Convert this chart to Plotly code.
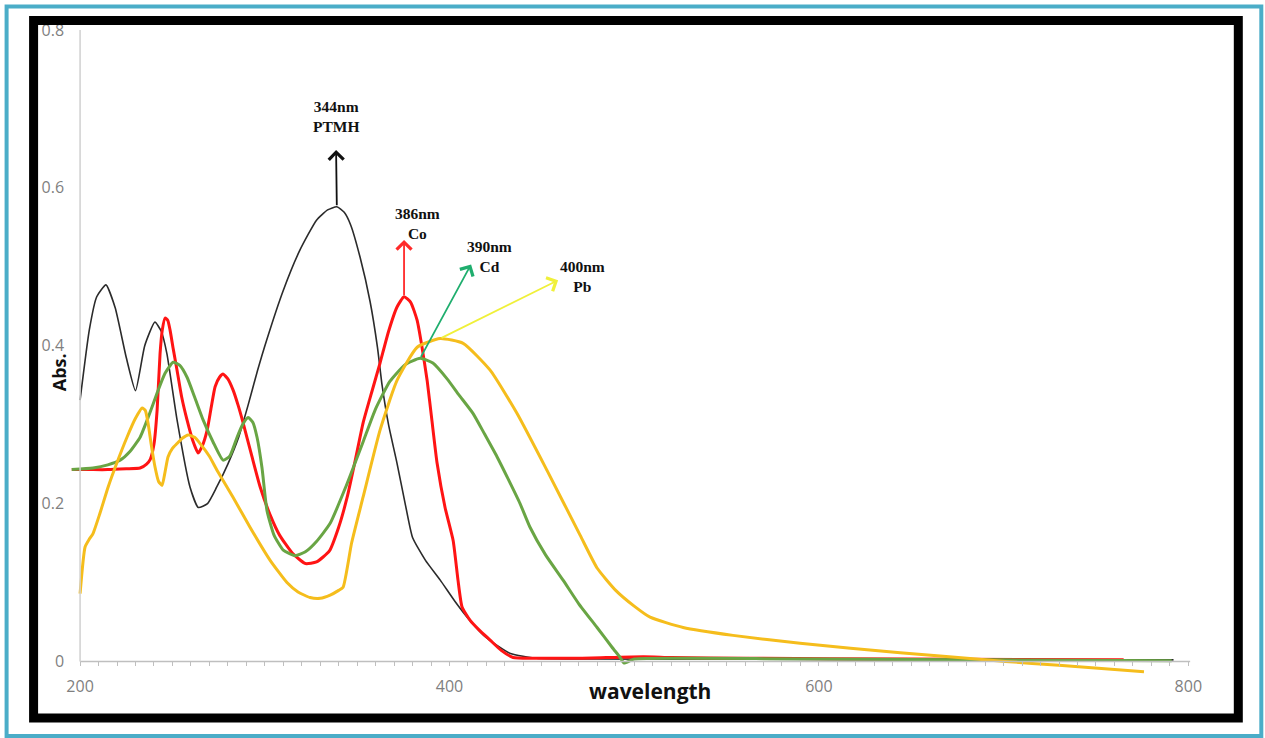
import plotly.graph_objects as go

# ---------------- data ----------------
ptmh_x = [200, 205, 209, 214, 219, 225, 230, 235, 240.5, 244, 247, 252.5, 259.5, 264, 269, 274, 280, 286,
          291, 296, 301, 310, 319, 328, 334, 339, 343, 346.5, 351.6, 357, 361, 363.5, 367, 371.6, 376, 380,
          387, 395, 403, 411, 420, 433, 447, 480, 550, 650, 750, 792]
ptmh_y = [0.331, 0.420, 0.462, 0.477, 0.448, 0.385, 0.343, 0.400, 0.430, 0.418, 0.390, 0.306, 0.221, 0.195,
          0.200, 0.221, 0.250, 0.285, 0.325, 0.368, 0.407, 0.470, 0.521, 0.559, 0.572, 0.576, 0.569, 0.553,
          0.512, 0.456, 0.398, 0.350, 0.300, 0.251, 0.200, 0.157, 0.128, 0.103, 0.076, 0.052, 0.030, 0.010,
          0.004, 0.003, 0.003, 0.002, 0.002, 0.002]

co_x = [195.5, 205, 215, 225, 232.5, 236, 238, 240, 241.7, 243.3, 244.5, 246, 247.5, 248.7, 250.5, 252.5,
        255, 257.9, 261, 263.9, 266, 268.8, 271, 273.1, 275.5, 277.4, 280, 282.8, 285.5, 288.3, 293, 297.5,
        303, 308, 315, 322, 328, 335, 340, 344.6, 349, 353.2, 358, 362.4, 367, 371.6, 375.4, 379, 382.5,
        385, 387.9, 390.5, 393.3, 397.6, 402, 404.6, 406.8, 411.2, 416, 422, 428, 434.4, 445, 470, 505,
        520, 560, 650, 765]
co_y = [0.243, 0.243, 0.243, 0.244, 0.245, 0.250, 0.256, 0.275, 0.318, 0.390, 0.420, 0.435, 0.432, 0.420,
        0.395, 0.369, 0.335, 0.306, 0.280, 0.264, 0.272, 0.293, 0.322, 0.348, 0.360, 0.364, 0.358, 0.344,
        0.325, 0.302, 0.260, 0.221, 0.185, 0.160, 0.137, 0.124, 0.126, 0.140, 0.170, 0.208, 0.255, 0.302,
        0.342, 0.378, 0.418, 0.449, 0.462, 0.455, 0.432, 0.400, 0.356, 0.305, 0.251, 0.195, 0.153, 0.103,
        0.069, 0.052, 0.040, 0.027, 0.014, 0.005, 0.004, 0.004, 0.006, 0.005, 0.004, 0.003, 0.002]

cd_x = [195.5, 207, 215, 221.7, 227, 232.5, 237, 241.7, 246, 250.4, 254, 257.9, 262, 266.6, 272, 277.4,
        281, 285, 288, 291, 293.5, 295.8, 298.5, 301.2, 305, 310, 316.4, 322, 328, 335.4, 344, 353.2, 360,
        367.8, 376, 384.1, 391, 398.7, 405, 412.8, 419, 425.8, 432, 438.2, 443.6, 452, 461.5, 470, 479.9,
        488, 492.4, 494.5, 500, 530, 600, 700, 791]
cd_y = [0.243, 0.245, 0.249, 0.255, 0.266, 0.284, 0.310, 0.340, 0.365, 0.379, 0.375, 0.360, 0.335, 0.306,
        0.278, 0.255, 0.260, 0.284, 0.300, 0.309, 0.303, 0.284, 0.245, 0.191, 0.160, 0.141, 0.134, 0.139,
        0.152, 0.175, 0.222, 0.278, 0.320, 0.355, 0.376, 0.384, 0.378, 0.358, 0.338, 0.314, 0.288, 0.259,
        0.230, 0.200, 0.170, 0.135, 0.103, 0.073, 0.043, 0.018, 0.005, -0.002, 0.003, 0.004, 0.003, 0.002,
        0.001]

pb_x = [200, 202.7, 205, 207, 210.8, 215.2, 220, 225.4, 230, 233.6, 235.3, 236.8, 238.5, 240.6, 242.5,
        244.4, 246, 247.6, 250, 252.5, 255.5, 258.5, 262, 265, 270, 274.2, 282.8, 292, 302.9, 312, 318,
        324.5, 330, 335.4, 340, 342.4, 347, 353.2, 362.4, 371.6, 382.5, 394.9, 407.4, 422, 436.6, 452.8,
        470.7, 480, 490, 500, 508.6, 526.5, 553.5, 589.8, 644, 701, 730, 776]
pb_y = [0.086, 0.145, 0.155, 0.162, 0.188, 0.221, 0.252, 0.284, 0.308, 0.321, 0.318, 0.302, 0.275, 0.246,
        0.228, 0.223, 0.240, 0.259, 0.270, 0.276, 0.283, 0.287, 0.284, 0.276, 0.260, 0.242, 0.208, 0.170,
        0.128, 0.100, 0.088, 0.081, 0.080, 0.084, 0.090, 0.094, 0.150, 0.208, 0.293, 0.356, 0.398, 0.409,
        0.403, 0.369, 0.314, 0.242, 0.160, 0.118, 0.090, 0.070, 0.056, 0.043, 0.033, 0.023, 0.011, 0.000,
        -0.005, -0.013]

series_names = ["PTMH", "Co", "Cd", "Pb"]
peak_labels = ["344nm<br>PTMH", "386nm<br>Co", "390nm<br>Cd", "400nm<br>Pb"]
label_x = [338.6, 382.5, 421.4, 471.8]
label_y = [0.690, 0.555, 0.513, 0.488]
arrow_head_x = [338.6, 375.4, 411.7, 458.8]
arrow_head_y = [0.648, 0.534, 0.503, 0.483]

x_ticks = [200, 400, 600, 800]
y_ticks = [0, 0.2, 0.4, 0.6, 0.8]
y_ticktext = ["0", "0.2", "0.4", "0.6", "0.8"]

# ---------------- layout geometry ----------------
W, H = 1265, 738
x_range = [194, 802]
y_range = [-0.04, 0.805]
L, R, T, B = 68.9, 73.3, 26.1, 45.4
PW = W - L - R
PH = H - T - B


def px(xp):
    return (xp - L) / PW


def py(yp):
    return (T + PH - yp) / PH


line_colors = ["#2b2b2b", "#ff1414", "#69a544", "#f5bd1c"]
line_widths = [1.6, 3, 3, 3]
arrow_colors = ["#111111", "#ff2a2a", "#1fae6e", "#f0f03a"]

fig = go.Figure()
all_x = [ptmh_x, co_x, cd_x, pb_x]
all_y = [ptmh_y, co_y, cd_y, pb_y]
for name, xs, ys, c, w in zip(series_names, all_x, all_y, line_colors, line_widths):
    fig.add_trace(go.Scatter(x=xs, y=ys, mode="lines", name=name,
                             line=dict(color=c, width=w, shape="spline", smoothing=0.5)))

annotations = []
for i, (xs, ys) in enumerate(zip(all_x, all_y)):
    # arrow tail sits on the main (long-wavelength) absorption maximum of each series
    k = max((j for j in range(len(ys)) if xs[j] > 330), key=lambda j: ys[j])
    annotations.append(dict(x=arrow_head_x[i], y=arrow_head_y[i], ax=xs[k], ay=ys[k],
                            xref="x", yref="y", axref="x", ayref="y", text="", showarrow=True,
                            arrowhead=4, arrowsize=1.6, arrowwidth=1.8, arrowcolor=arrow_colors[i]))
    annotations.append(dict(x=label_x[i], y=label_y[i], xref="x", yref="y", text=peak_labels[i],
                            showarrow=False, align="center", xanchor="center", yanchor="middle",
                            font=dict(family="Liberation Serif", size=15.5, color="#111111", weight="bold")))

annotations.append(dict(x=px(59), y=py(372), xref="paper", yref="paper", text="Abs.", textangle=-90,
                        xanchor="center", yanchor="middle", showarrow=False,
                        font=dict(family="Open Sans", size=18, color="#111111", weight="bold")))
annotations.append(dict(x=px(650), y=py(691), xref="paper", yref="paper", text="wavelength",
                        xanchor="center", yanchor="middle", showarrow=False,
                        font=dict(family="Open Sans", size=21, color="#111111", weight="bold")))

shapes = [
    dict(type="line", xref="x", yref="y", x0=200, x1=801, y0=0, y1=0, line=dict(color="#bfbfbf", width=1.5)),
    dict(type="line", xref="x", yref="y", x0=200, x1=200, y0=0, y1=0.8, line=dict(color="#d0d0d0", width=1.5)),
    dict(type="rect", xref="paper", yref="paper", x0=px(6.5), x1=px(1261), y0=py(6.5), y1=py(735.5),
         line=dict(color="#4badc8", width=4), layer="above"),
    dict(type="rect", xref="paper", yref="paper", x0=px(33.5), x1=px(1238), y0=py(20.5), y1=py(717.5),
         line=dict(color="#000000", width=9), layer="above"),
]

zero_pos = (0 - y_range[0]) / (y_range[1] - y_range[0])
y_pos = (200 - x_range[0]) / (x_range[1] - x_range[0])

fig.update_layout(
    width=W, height=H, autosize=False,
    margin=dict(l=L, r=R, t=T, b=B, pad=0),
    paper_bgcolor="white", plot_bgcolor="white",
    showlegend=False,
    xaxis=dict(range=x_range, anchor="free", position=zero_pos, showgrid=False, zeroline=False,
               showline=False, tickmode="array", tickvals=x_ticks, ticktext=[str(v) for v in x_ticks],
               ticks="outside", ticklen=4, tickcolor="#bfbfbf", ticklabelstandoff=6,
               minor=dict(tickmode="linear", tick0=200, dtick=10, ticks="outside", ticklen=4,
                          tickcolor="#bfbfbf"),
               tickfont=dict(family="Open Sans", size=16, color="#7f7f7f")),
    yaxis=dict(range=y_range, anchor="free", position=y_pos, showgrid=False, zeroline=False,
               showline=False, tickmode="array", tickvals=y_ticks, ticktext=y_ticktext, ticks="",
               ticklabelstandoff=16, tickfont=dict(family="Open Sans", size=16, color="#7f7f7f")),
    annotations=annotations,
    shapes=shapes,
)

fig.write_html("out.html")
